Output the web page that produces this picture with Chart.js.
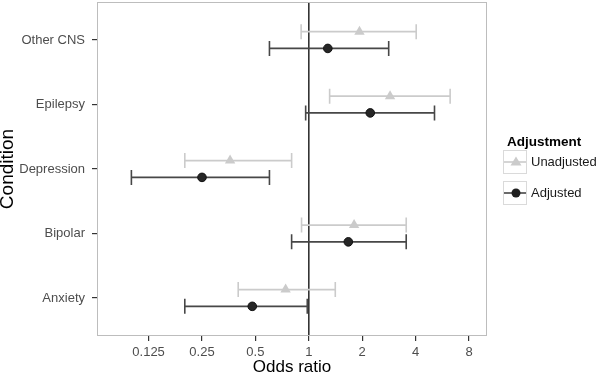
<!DOCTYPE html>
<html>
<head>
<meta charset="utf-8">
<script src="https://cdn.jsdelivr.net/npm/chart.js@4.4.1/dist/chart.umd.min.js"></script>
<style>
  html, body { margin: 0; padding: 0; background: #fff; }
  #wrap { width: 600px; height: 376px; }
</style>
</head>
<body>
<div id="wrap"><canvas id="myChart" width="600" height="376"></canvas></div>
<script>
const categories = ["Other CNS", "Epilepsy", "Depression", "Bipolar", "Anxiety"];
const xTicks = [0.125, 0.25, 0.5, 1, 2, 4, 8];

// odds ratios with lower / upper confidence limits
const unadjOR = [1.93, 2.87, 0.36, 1.80, 0.74];
const unadjLo = [0.905, 1.31, 0.20, 0.91, 0.40];
const unadjHi = [4.03, 6.26, 0.80, 3.54, 1.41];
const adjOR = [1.28, 2.22, 0.25, 1.67, 0.48];
const adjLo = [0.60, 0.96, 0.10, 0.80, 0.20];
const adjHi = [2.82, 5.11, 0.60, 3.54, 0.98];

const dodge = 0.13;
const lightGrey = "#cbcbcb";
const darkGrey = "#474747";
const font = "'Liberation Sans', Arial, sans-serif";

const toPoints = (vals, off) => vals.map((v, i) => ({ x: v, y: i + off }));

const noPad = (scale) => {
  scale.paddingTop = 0;
  scale.paddingBottom = 0;
  scale.paddingLeft = 0;
  scale.paddingRight = 0;
};

const errorBars = {
  id: "errorBars",
  beforeDatasetsDraw(chart) {
    const { ctx, chartArea, scales: { x, y } } = chart;
    ctx.save();
    // reference line at odds ratio 1
    const x1 = x.getPixelForValue(1);
    ctx.strokeStyle = "#333";
    ctx.lineWidth = 1.6;
    ctx.beginPath();
    ctx.moveTo(x1, chartArea.top);
    ctx.lineTo(x1, chartArea.bottom);
    ctx.stroke();

    const bars = [
      { lo: unadjLo, hi: unadjHi, off: -dodge, color: lightGrey },
      { lo: adjLo, hi: adjHi, off: dodge, color: darkGrey },
    ];
    bars.forEach((b) => {
      ctx.strokeStyle = b.color;
      ctx.lineWidth = 1.6;
      b.lo.forEach((lo, i) => {
        const py = y.getPixelForValue(i + b.off);
        const a = x.getPixelForValue(lo);
        const c = x.getPixelForValue(b.hi[i]);
        ctx.beginPath();
        ctx.moveTo(a, py);
        ctx.lineTo(c, py);
        ctx.moveTo(a, py - 7.5);
        ctx.lineTo(a, py + 7.5);
        ctx.moveTo(c, py - 7.5);
        ctx.lineTo(c, py + 7.5);
        ctx.stroke();
      });
    });
    ctx.restore();
  },
  afterDraw(chart) {
    const { ctx, chartArea } = chart;
    ctx.save();
    // panel border
    ctx.strokeStyle = "#bdbdbd";
    ctx.lineWidth = 1;
    ctx.strokeRect(chartArea.left + 0.5, chartArea.top + 0.5,
      chartArea.right - chartArea.left - 1, chartArea.bottom - chartArea.top - 1);

    // legend
    ctx.fillStyle = "#000";
    ctx.font = "bold 13.5px " + font;
    ctx.textBaseline = "middle";
    ctx.fillText("Adjustment", 507, 142);

    const keys = [
      { label: "Unadjusted", color: lightGrey, style: "triangle", cy: 162 },
      { label: "Adjusted", color: darkGrey, style: "circle", cy: 193 },
    ];
    keys.forEach((k) => {
      const bx = 503, bs = 24;
      ctx.fillStyle = "#fff";
      ctx.fillRect(bx, k.cy - bs / 2, bs, bs);
      ctx.strokeStyle = "#dadada";
      ctx.lineWidth = 1;
      ctx.strokeRect(bx + 0.5, k.cy - bs / 2 + 0.5, bs - 1, bs - 1);
      ctx.strokeStyle = k.color;
      ctx.lineWidth = 1.6;
      ctx.beginPath();
      ctx.moveTo(bx + 1, k.cy);
      ctx.lineTo(bx + bs - 1, k.cy);
      ctx.stroke();
      const cx = bx + bs / 2 + 1;
      if (k.style === "triangle") {
        ctx.fillStyle = lightGrey;
        ctx.beginPath();
        ctx.moveTo(cx, k.cy - 5.5);
        ctx.lineTo(cx + 5.5, k.cy + 3.5);
        ctx.lineTo(cx - 5.5, k.cy + 3.5);
        ctx.closePath();
        ctx.fill();
      } else {
        ctx.fillStyle = "#1f1f1f";
        ctx.beginPath();
        ctx.arc(cx, k.cy, 4.5, 0, Math.PI * 2);
        ctx.fill();
      }
      ctx.fillStyle = "#1a1a1a";
      ctx.font = "13px " + font;
      ctx.fillText(k.label, 531, k.cy);
    });
    ctx.restore();
  },
};

const ctx = document.getElementById("myChart");
const chart = new Chart(ctx, {
  type: "scatter",
  data: {
    datasets: [
      {
        label: "Unadjusted",
        data: toPoints(unadjOR, -dodge),
        pointStyle: "triangle",
        pointRadius: 6,
        pointBackgroundColor: lightGrey,
        pointBorderColor: lightGrey,
        pointBorderWidth: 0,
      },
      {
        label: "Adjusted",
        data: toPoints(adjOR, dodge),
        pointStyle: "circle",
        pointRadius: 4.3,
        pointBackgroundColor: "#262626",
        pointBorderColor: "#111",
        pointBorderWidth: 1,
      },
    ],
  },
  options: {
    responsive: false,
    devicePixelRatio: 1,
    animation: false,
    layout: {
      autoPadding: false,
      padding: { top: 2, right: 113, left: 0, bottom: 0 },
    },
    plugins: {
      legend: { display: false },
      tooltip: { enabled: false },
    },
    scales: {
      x: {
        type: "logarithmic",
        bounds: "data",
        min: 0.064,
        max: 10.1,
        afterBuildTicks: (scale) => {
          scale.ticks = xTicks.map((v) => ({ value: v }));
        },
        afterFit: (scale) => {
          scale.height = 40;
          noPad(scale);
        },
        grid: { drawOnChartArea: false, drawTicks: true, tickLength: 5, color: "#333", lineWidth: 1.2 },
        border: { display: false },
        ticks: {
          autoSkip: false,
          maxRotation: 0,
          padding: 4,
          color: "#4d4d4d",
          font: { family: font, size: 13 },
          callback: (v) => String(v),
        },
        title: {
          display: true,
          text: "Odds ratio",
          color: "#000",
          font: { family: font, size: 17, lineHeight: 1 },
          padding: { top: 0, bottom: 0 },
        },
      },
      y: {
        type: "linear",
        reverse: true,
        bounds: "data",
        min: -0.59,
        max: 4.59,
        afterBuildTicks: (scale) => {
          scale.ticks = categories.map((c, i) => ({ value: i }));
        },
        afterFit: (scale) => {
          scale.width = 97;
          noPad(scale);
        },
        grid: { drawOnChartArea: false, drawTicks: true, tickLength: 5, color: "#333", lineWidth: 1.2 },
        border: { display: false },
        ticks: {
          autoSkip: false,
          padding: 7,
          color: "#4d4d4d",
          font: { family: font, size: 13 },
          callback: (v) => categories[v],
        },
        title: {
          display: true,
          text: "Condition",
          color: "#000",
          font: { family: font, size: 19, lineHeight: 1 },
          padding: { top: -2, bottom: 0 },
        },
      },
    },
  },
  plugins: [errorBars],
});
</script>
</body>
</html>
